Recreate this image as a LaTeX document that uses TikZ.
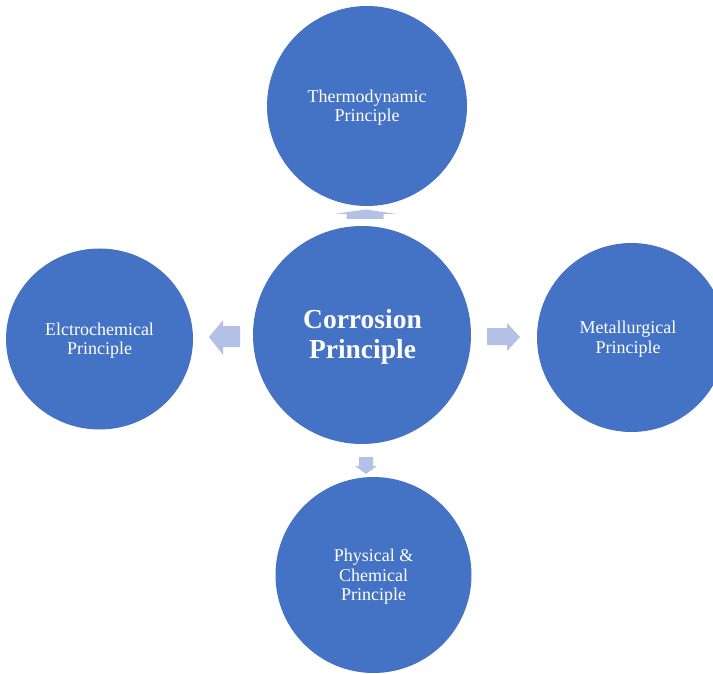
\documentclass[tikz,border=0pt]{standalone}
\usepackage{fontspec}
\setmainfont{Liberation Serif}
\usetikzlibrary{shapes.geometric}
\definecolor{circblue}{HTML}{4472C4}
\definecolor{arrblue}{HTML}{B4C1E6}
\begin{document}
\begin{tikzpicture}[x=1pt,y=-1pt,
  bub/.style={circle,fill=circblue,draw=none,text=white,align=center,inner sep=0pt,
    font=\fontsize{18}{19.5}\selectfont},
  bigtext/.style={font=\fontsize{27.5}{29.5}\selectfont\bfseries},
  lbl/.style={text=white,align=center,font=\fontsize{18}{19.5}\selectfont},
  blockarr/.style={fill=arrblue,draw=none}]
\useasboundingbox (0,0) rectangle (713,674);
\clip (0,0) rectangle (713,674);
\node[bub,bigtext,minimum size=218pt] (center) at (362,335) {};
\node[text=white,align=center,bigtext] (centertext) at (362.5,337) {Corrosion\\ Principle};
\node[bub,minimum size=200pt] (top) at (367,106) {};
\node[lbl] (toptext) at (367,107.5) {Thermodynamic\\ Principle};
\node[bub,minimum size=196pt] (bottom) at (373.5,575) {};
\node[lbl] (bottomtext) at (373.5,577) {Physical \&\\ Chemical\\ Principle};
\node[bub,ellipse,minimum width=187pt,minimum height=181pt] (left) at (99.5,339) {};
\node[lbl] (lefttext) at (99.5,340.5) {Elctrochemical\\ Principle};
\node[bub,minimum size=189pt] (right) at (631.5,337.5) {};
\node[lbl] (righttext) at (628,339) {Metallurgical\\ Principle};
% block arrows
\fill[blockarr] (346.5,214) -- (346.5,219) -- (383.5,219) -- (383.5,214) -- (397,214) -- (365.5,209.5) -- (334,214) -- cycle;
\fill[blockarr] (240,326) -- (223,326) -- (223,320) -- (209,337) -- (223,355) -- (223,347) -- (240,347) -- cycle;
\fill[blockarr] (487,328) -- (507,328) -- (507,323) -- (520,337) -- (507,351) -- (507,345) -- (487,345) -- cycle;
\fill[blockarr] (359,457) -- (373,457) -- (373,466) -- (377,466) -- (366,474) -- (355,466) -- (359,466) -- cycle;
\end{tikzpicture}
\end{document}
